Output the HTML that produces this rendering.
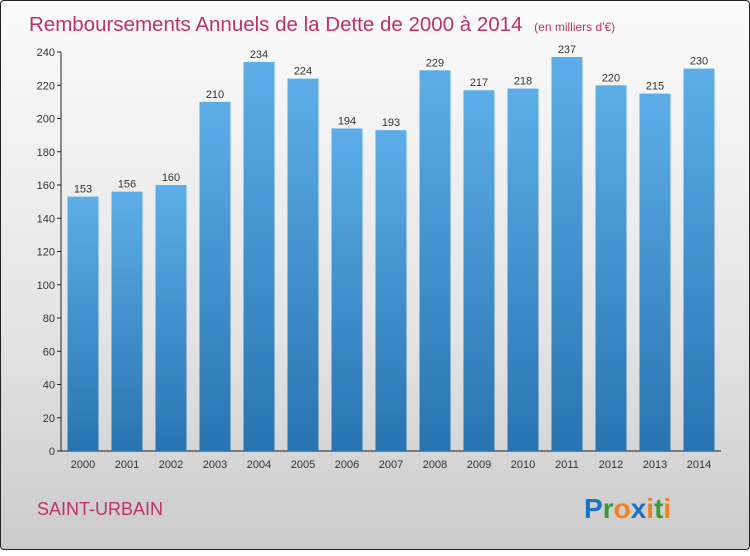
<!DOCTYPE html>
<html><head><meta charset="utf-8"><style>
html,body{margin:0;padding:0}
body{width:750px;height:550px;overflow:hidden;font-family:"Liberation Sans",sans-serif}
#wrap{position:absolute;left:0;top:0;width:748px;height:548px;border:1px solid #222;border-radius:4px;background:linear-gradient(#fbfbfb,#e4e4e4 60%,#cbcbcb)}
</style></head><body>
<div id="wrap">
<svg width="750" height="550" xmlns="http://www.w3.org/2000/svg">
<defs><linearGradient id="bg" x1="0" y1="0" x2="0" y2="1"><stop offset="0" stop-color="#5daee8"/><stop offset="1" stop-color="#2874b0"/></linearGradient></defs>
<text x="28" y="30" font-size="20.5" fill="#c0306a">Remboursements Annuels de la Dette de 2000 à 2014 <tspan font-size="12" dx="6">(en milliers d'€)</tspan></text>
<g id="axes"></g><g id="bars"></g>
<text x="36" y="514" font-size="18" fill="#c0306a">SAINT-URBAIN</text>
<text x="583" y="517" font-size="28" font-weight="bold"><tspan fill="#1a72c8">P</tspan><tspan fill="#3a9a3a">r</tspan><tspan fill="#f08020">o</tspan><tspan fill="#1a72c8">x</tspan><tspan fill="#f08020">i</tspan><tspan fill="#3a9a3a">t</tspan><tspan fill="#f08020">i</tspan></text>
</svg></div>
<script>
const years=["2000","2001","2002","2003","2004","2005","2006","2007","2008","2009","2010","2011","2012","2013","2014"];
const values=[153,156,160,210,234,224,194,193,229,217,218,237,220,215,230];
const ticks=[0,20,40,60,80,100,120,140,160,180,200,220,240];
const NS="http://www.w3.org/2000/svg";
const y=v=>450-v*399/240, x=i=>82+i*44;
const ax=document.getElementById('axes'), bg=document.getElementById('bars');
function mk(p,t,a){const e=document.createElementNS(NS,t);for(const k in a)e.setAttribute(k,a[k]);p.appendChild(e);return e;}
let l=mk(ax,'line',{x1:60,y1:51,x2:60,y2:450,stroke:'#222'});


l=mk(ax,'line',{x1:60,y1:450,x2:720,y2:450,stroke:'#222'});


ticks.forEach(t=>{mk(ax,'line',{x1:56,y1:y(t),x2:60,y2:y(t),stroke:'#222'});
const e=mk(ax,'text',{x:54,y:y(t)+4,'font-size':11,'text-anchor':'end',fill:'#333'});e.textContent=t;

});
years.forEach((yr,i)=>{const v=values[i];
const r=mk(bg,'rect',{x:x(i)-15.5,y:y(v),width:31,height:450-y(v),fill:'url(#bg)'});


const t=mk(bg,'text',{x:x(i),y:y(v)-4,'font-size':11,'text-anchor':'middle',fill:'#333'});t.textContent=v;


const xl=mk(bg,'text',{x:x(i),y:467,'font-size':11,'text-anchor':'middle',fill:'#333'});xl.textContent=yr;

});
</script>
</body></html>
